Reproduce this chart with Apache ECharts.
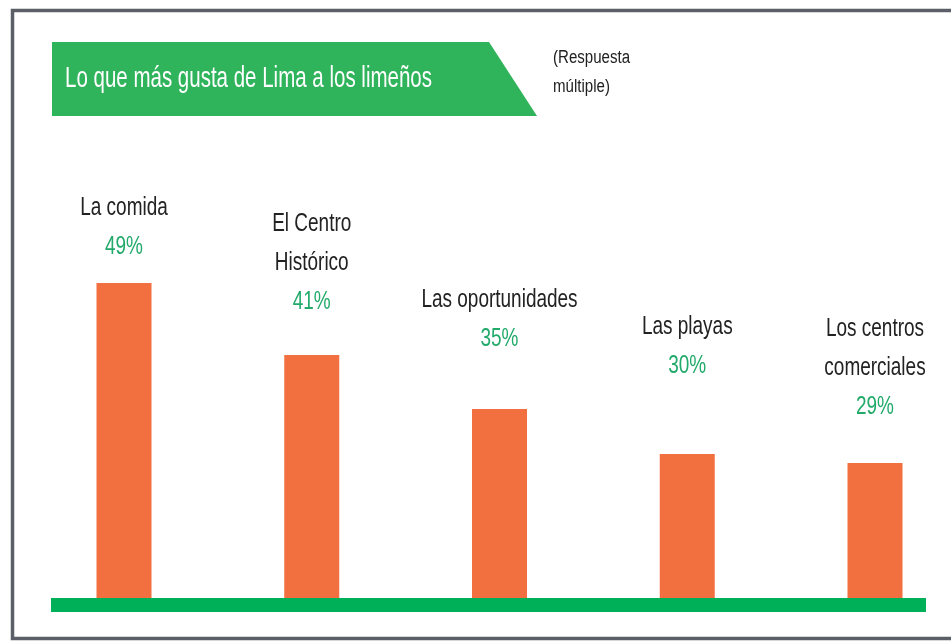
<!DOCTYPE html>
<html><head><meta charset="utf-8">
<script src="https://cdn.jsdelivr.net/npm/echarts@6/dist/echarts.min.js"></script>
<style>html,body{margin:0;padding:0;background:#fff}#c{width:951px;height:643px}</style>
</head><body><div id="c"></div>
<script>
const categories = ['La comida', 'El Centro\nHistórico', 'Las oportunidades', 'Las playas', 'Los centros\ncomerciales'];
const values = [49, 41, 35, 30, 29];
const titleText = 'Lo que más gusta de Lima a los limeños';
const noteLines = ['(Respuesta', 'múltiple)'];
// label lift above each bar (styling)
const labelLift = [17, 34, 51, 69, 37];

const FONT = '"Liberation Sans", Arial, sans-serif';
const TITLE_FONT = '"Liberation Sans", Arial, sans-serif';
const LBL_SIZE = 26, LBL_SCALE = 0.73, LINE_H = 39;

function measure(text, font) {
  const ctx = document.createElement('canvas').getContext('2d');
  ctx.font = font;
  return ctx.measureText(text).width;
}
const titleFontStr = '30px ' + TITLE_FONT;
const titleScale = 367 / measure(titleText, titleFontStr);
const noteFontStr = '18px ' + FONT;
const noteScale = 77 / measure(noteLines[0], noteFontStr);

const chart = echarts.init(document.getElementById('c'));
chart.setOption({
  animation: false,
  grid: {left: 124, right: 76, top: 202, bottom: 45},
  xAxis: {type: 'category', data: categories, boundaryGap: false,
    axisLine: {show: false}, axisTick: {show: false}, axisLabel: {show: false}},
  yAxis: {type: 'value', min: 14, max: 58, show: false, splitLine: {show: false}},
  graphic: [
    {type: 'rect', shape: {x: 12.5, y: 10.5, width: 1000, height: 628}, style: {fill: 'none', stroke: '#5b5f68', lineWidth: 3.5}, z: 0},
    {type: 'polygon', shape: {points: [[52, 42], [489, 42], [537, 116], [52, 116]]}, style: {fill: '#2fb35b'}},
    {type: 'text', x: 65, y: 79, scaleX: titleScale, style: {text: titleText, fill: '#fff', font: titleFontStr, verticalAlign: 'middle'}},
    {type: 'text', x: 553, y: 58, scaleX: noteScale, style: {text: noteLines[0], fill: '#222', font: noteFontStr, verticalAlign: 'middle'}},
    {type: 'text', x: 553, y: 87, scaleX: noteScale, style: {text: noteLines[1], fill: '#222', font: noteFontStr, verticalAlign: 'middle'}},
    {type: 'rect', shape: {x: 51, y: 598, width: 875, height: 14}, style: {fill: '#00b058'}, z: 10}
  ],
  series: [{
    type: 'bar', barWidth: 55,
    itemStyle: {color: '#f26f3f'},
    data: values
  }, {
    type: 'custom',
    data: values.map((v, i) => [i, v]),
    encode: {x: 0, y: 1},
    z: 5,
    renderItem: (params, api) => {
      const i = params.dataIndex;
      const pt = api.coord([api.value(0), api.value(1)]);
      const names = categories[i].split('\n');
      const children = [];
      children.push({type: 'text', x: 0, y: 0,
        style: {text: values[i] + '%', fill: '#22aa6a', font: LBL_SIZE + 'px ' + FONT, align: 'center', verticalAlign: 'middle'}});
      names.forEach((s, k) => {
        children.push({type: 'text', x: 0, y: -(names.length - k) * LINE_H,
          style: {text: s, fill: '#222', font: LBL_SIZE + 'px ' + FONT, align: 'center', verticalAlign: 'middle'}});
      });
      return {type: 'group', x: pt[0], y: pt[1] - labelLift[i] - LINE_H / 2, scaleX: LBL_SCALE, children};
    }
  }]
});
</script></body></html>
